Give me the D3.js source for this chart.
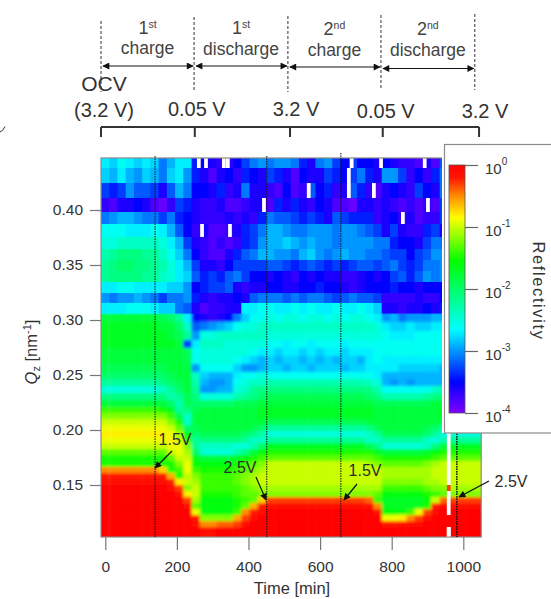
<!DOCTYPE html>
<html>
<head>
<meta charset="utf-8">
<script src="https://cdn.jsdelivr.net/npm/d3@7"></script>
<style>
body { margin: 0; background: #fff; }
text { font-family: "Liberation Sans", Arial, sans-serif; }
</style>
</head>
<body>
<div id="chart"></div>
<script>
// bin edges of the map
var timeEdges = [-12, 11, 34, 57, 80, 103, 126, 149, 172, 195, 218, 241, 264, 288, 311, 334, 357, 380, 403, 426, 449, 472, 495, 518, 541, 564, 587, 611, 634, 657, 680, 703, 726, 749, 772, 795, 818, 841, 864, 887, 910, 934, 957, 980, 1003, 1026, 1050];
var qEdges = [.4473, .4382, .4245, .4109, .3982, .3873, .3755, .3645, .3545, .3445, .3345, .3245, .3155, .3064, .2982, .29, .2818, .2745, .2673, .26, .2527, .2464, .24, .2336, .2273, .2209, .2155, .21, .2045, .1991, .1936, .1882, .1827, .1773, .1718, .1664, .1609, .1555, .15, .1445, .1391, .1336, .1282, .1227, .1173, .1118, .1027];

// -10*log10(reflectivity), one row per Q bin from the top, one value per time bin
var logR = [
[27,28,26,27,28,27,28,31,29,27,27,34,35,36,37,37,35,33,31,30,31,30,30,31,34,36,31,30,33,35,33,35,35,36,35,36,37,37,38,36,38,32,30,30,30,30],
[28,29,27,29,30,28,29,31,28,27,30,34,36,38,36,35,37,34,35,36,33,34,36,38,35,36,36,33,34,35,33,31,34,36,30,30,33,37,35,37,34,31,30,30,30,30],
[33,34,33,30,32,32,33,36,32,29,31,35,35,36,34,37,36,31,36,36,37,38,35,38,37,32,35,34,37,36,32,34,37,38,36,35,36,37,33,35,36,31,30,30,30,30],
[37,38,36,36,35,36,38,39,37,33,34,36,37,37,36,38,38,37,36,36,38,34,36,34,36,37,35,36,38,38,39,36,36,37,36,37,38,37,38,37,38,33,30,30,30,30],
[31,30,29,29,30,31,31,33,31,34,35,36,37,37,37,36,37,36,37,34,31,32,32,33,34,33,34,36,32,33,34,34,34,37,36,35,37,36,38,37,37,33,30,30,30,30],
[26,26,26,27,27,27,26,27,29,32,35,37,36,38,38,37,36,34,33,31,29,29,30,31,31,30,30,30,31,30,30,31,32,33,36,33,36,37,37,34,33,36,30,30,30,30],
[25,25,24,24,24,24,24,25,27,29,33,36,37,38,37,38,37,34,33,30,29,29,28,29,30,29,30,30,31,30,30,30,30,31,31,34,35,35,36,33,31,31,30,30,30,30],
[23,22,21,21,21,22,22,24,26,28,31,35,37,38,38,36,34,32,31,29,29,30,30,31,29,28,30,31,30,29,30,30,31,31,32,33,33,35,33,32,30,30,30,30,30,30],
[22,21,20,20,21,21,22,23,25,27,29,33,36,36,37,35,33,33,33,33,32,32,33,34,33,32,33,34,33,34,33,32,32,33,32,31,33,34,33,31,31,30,30,30,30,30],
[22,21,21,21,21,22,22,24,25,27,28,32,34,33,34,32,31,33,35,35,36,35,36,37,35,36,35,36,36,37,37,36,35,36,35,33,32,34,32,30,31,30,30,30,30,30],
[27,27,26,26,27,27,27,27,28,28,30,35,34,33,33,32,36,37,36,36,35,35,36,36,35,35,34,35,35,36,37,36,35,35,35,34,35,35,36,35,35,35,30,30,30,30],
[30,31,30,30,29,30,31,33,31,31,30,34,36,37,36,36,35,36,32,31,31,31,32,31,32,31,31,32,33,32,31,32,32,33,37,37,37,37,36,37,37,35,30,30,30,30],
[27,27,27,26,26,26,27,28,28,31,32,36,38,37,37,36,36,27,27,26,26,27,27,26,27,26,27,27,26,27,27,26,27,28,36,36,37,36,36,35,36,34,30,30,30,30],
[18,18,18,18,18,18,18,19,20,22,27,35,36,37,36,35,31,28,26,26,25,26,25,25,26,25,25,26,25,26,25,25,26,27,30,29,31,30,30,30,29,29,29,29,29,29],
[17,17,17,17,17,17,17,18,18,20,24,32,31,30,29,28,26,25,25,24,24,24,24,24,24,24,24,24,24,24,24,24,24,25,27,28,28,27,28,28,27,27,27,27,27,27],
[17,17,17,17,17,17,17,17,18,19,22,30,25,25,24,24,24,24,24,24,25,25,25,25,25,25,25,25,25,25,25,25,25,25,26,27,27,27,26,26,26,26,26,26,26,26],
[17,17,17,17,17,17,17,17,17,18,33,27,24,24,24,25,25,25,25,25,26,26,27,26,26,27,26,26,26,27,26,26,26,26,26,26,26,26,26,26,26,26,26,26,26,26],
[18,18,18,18,18,18,18,18,18,18,19,26,25,25,25,25,25,25,26,27,27,28,27,27,28,27,28,27,27,28,27,27,27,26,26,26,26,26,26,26,26,26,27,27,27,27],
[18,18,18,18,18,18,18,18,18,18,19,26,25,25,25,25,26,27,28,29,28,29,28,28,29,28,29,28,29,28,28,29,27,26,27,27,27,27,27,27,27,27,27,27,27,27],
[19,19,19,19,19,19,19,19,18,18,18,30,26,26,26,26,28,30,30,29,28,28,29,28,28,29,28,28,28,29,28,28,27,27,27,27,28,28,28,28,28,29,29,29,29,29],
[20,20,20,20,20,20,20,20,19,18,18,24,28,29,29,29,27,26,26,25,26,26,26,26,26,26,26,26,26,26,26,26,26,27,29,29,29,29,29,29,29,29,29,29,29,29],
[22,22,22,22,22,22,22,21,20,19,18,23,29,30,30,29,26,25,24,24,23,23,23,23,23,23,23,23,23,23,23,23,24,25,29,30,29,30,29,29,29,29,29,29,29,29],
[25,25,25,25,25,25,25,24,22,20,18,22,30,30,29,29,25,24,22,21,21,21,21,21,21,21,21,21,21,21,21,21,21,23,26,26,26,26,26,26,24,23,23,23,23,23],
[21,21,21,21,21,21,21,21,23,22,19,21,25,25,25,25,23,22,21,20,19,19,19,19,19,19,19,19,19,19,19,19,20,21,23,23,23,23,23,22,21,20,19,19,19,19],
[18,18,18,18,18,18,18,18,20,23,19,20,20,20,20,20,19,19,19,18,18,18,18,18,18,18,18,18,18,18,18,18,18,19,19,19,19,19,19,19,18,18,18,18,18,18],
[14,14,14,14,14,14,14,15,17,22,21,19,18,18,18,18,18,18,18,17,17,17,17,17,17,17,17,17,17,17,17,17,17,18,18,18,18,18,18,18,18,17,17,17,17,17],
[12,12,12,12,12,12,12,12,14,19,24,18,18,18,18,18,18,18,18,17,17,17,17,17,17,17,17,17,17,17,17,17,17,18,18,18,18,18,18,18,18,17,17,17,17,17],
[10,10,10,10,10,10,10,10,12,15,24,18,18,18,18,18,18,18,18,18,19,19,19,19,19,19,19,19,19,19,19,19,18,18,18,18,18,18,18,18,18,19,19,19,19,19],
[9,9,9,9,9,9,9,9,10,13,20,19,18,18,18,18,18,18,19,20,22,22,22,22,22,22,22,22,22,22,22,22,21,19,18,18,18,18,18,19,20,22,22,22,22,22],
[8,8,8,8,8,8,8,8,9,11,17,20,19,19,19,19,19,20,21,23,25,25,25,25,25,25,25,25,25,25,25,25,24,22,19,19,19,19,19,20,22,25,25,25,25,25],
[9,9,9,9,9,9,9,9,8,10,14,22,21,21,21,21,21,22,24,24,22,22,22,22,22,22,22,22,22,22,22,22,24,24,22,22,22,22,22,24,25,23,22,22,22,22],
[10,10,10,10,10,10,10,10,9,9,12,22,24,24,24,24,25,25,23,20,17,17,17,17,17,17,17,17,17,17,17,17,19,21,25,25,25,25,25,24,21,18,17,17,17,17],
[13,13,13,13,13,13,13,13,10,9,11,20,25,25,25,25,23,21,18,16,15,15,15,15,15,15,15,15,15,15,15,15,15,17,18,18,18,18,18,17,16,15,15,15,15,15],
[15,15,15,15,15,15,15,15,13,10,10,17,18,18,18,18,17,16,15,14,13,13,13,13,13,13,13,13,13,13,13,13,13,14,15,15,15,15,15,15,14,13,13,13,13,13],
[15,15,15,15,15,15,15,15,15,12,9,16,16,16,16,16,15,14,13,12,10,10,10,10,10,10,10,10,10,10,10,10,11,12,13,13,13,13,13,12,11,10,10,10,10,10],
[5,5,5,5,5,5,5,7,15,14,9,14,15,15,15,15,14,13,12,11,10,10,10,10,10,10,10,10,10,10,10,10,10,10,11,11,11,11,11,11,10,10,10,10,10,10],
[2,2,2,2,2,2,2,2,6,15,10,12,14,14,14,14,13,12,11,10,10,10,10,10,10,10,10,10,10,10,10,10,10,10,11,11,11,11,11,11,10,10,10,10,10,10],
[1,1,1,1,1,1,1,1,2,8,10,11,14,14,14,14,13,12,11,10,10,10,10,10,10,10,10,10,10,10,10,10,10,10,12,12,12,12,12,11,11,10,10,10,10,10],
[0,0,0,0,0,0,0,0,1,3,12,10,14,14,14,14,14,13,12,11,11,11,11,11,11,11,11,11,11,11,11,11,11,11,14,14,14,14,14,13,12,12,11,11,11,11],
[0,0,0,0,0,0,0,0,0,1,8,10,15,15,15,15,14,13,13,12,12,12,12,12,12,12,12,12,12,12,12,12,12,13,16,16,16,16,16,15,14,13,12,12,12,12],
[0,0,0,0,0,0,0,0,0,0,3,11,16,16,16,16,15,14,13,7,3,3,3,3,3,3,3,3,3,3,3,3,4,14,17,17,17,17,17,16,10,4,3,3,3,3],
[0,0,0,0,0,0,0,0,0,0,1,13,16,16,16,16,15,13,6,2,1,1,1,1,1,1,1,1,1,1,1,1,1,5,17,17,17,17,17,15,2,1,1,1,1,1],
[0,0,0,0,0,0,0,0,0,0,0,9,16,16,16,16,14,5,2,1,0,0,0,0,0,0,0,0,0,0,0,0,0,1,16,16,16,14,9,3,1,0,0,0,0,0],
[0,0,0,0,0,0,0,0,0,0,0,2,12,12,12,12,6,3,1,0,0,0,0,0,0,0,0,0,0,0,0,0,0,0,9,9,8,5,3,1,0,0,0,0,0,0],
[0,0,0,0,0,0,0,0,0,0,0,1,5,5,4,4,3,1,0,0,0,0,0,0,0,0,0,0,0,0,0,0,0,0,2,2,1,1,1,0,0,0,0,0,0,0],
[0,0,0,0,0,0,0,0,0,0,0,0,1,1,0,0,0,0,0,0,0,0,0,0,0,0,0,0,0,0,0,0,0,0,0,0,0,0,0,0,0,0,0,0,0,0]
];
var noisyRows = 13; // rows above this stay blocky, the intense part below is smooth

// missing scans: white cells, start time of the scan and Q bin
var gapTimes = [256, 276, 326, 337, 683, 765, 887, 438, 265, 343, 675, 675, 563, 745, 896, 826, 954, 954, 954, 954, 954, 954, 954, 954, 954, 954, 954, 954, 954, 954, 954];
var gapRows = [0, 0, 0, 0, 0, 0, 0, 3, 5, 5, 1, 2, 2, 2, 3, 4, 29, 30, 31, 32, 33, 34, 35, 36, 37, 39, 40, 41, 42, 45, 45];
var gapWidth = 10.5;
var spikeTime = 954, spikeRow = 38, spikeValue = 3;

var xTicks = [0, 200, 400, 600, 800, 1000];
var yTicks = [0.15, 0.20, 0.25, 0.30, 0.35, 0.40];
var colorLevels = [0, 2, 5, 8.5, 15.5, 26.5, 35, 40];
var colorValues = ["#ff0000", "#ff1400", "#ff8c00", "#ffff00", "#00ff00", "#00ffff", "#0000ff", "#8000ff"];
var barExponents = [0, -1, -2, -3, -4];

// voltage line markers and cycle boundaries (minutes)
var markerTimes = [139, 451, 658, 982];
var cycleTimes = [-12, 248, 510, 770, 1032];
var bracketTimes = [-12, 250, 516, 775, 1044];
var cycleNames = [["1", "st", "charge"], ["1", "st", "discharge"], ["2", "nd", "charge"], ["2", "nd", "discharge"]];
var voltageNames = ["(3.2 V)", "0.05 V", "3.2 V", "0.05 V", "3.2 V"];
var voltageYs = [117, 116, 116, 118, 118];

var width = 551, height = 599;
var svg = d3.select("#chart").append("svg").attr("width", width).attr("height", height).style("display", "block");

var x = d3.scaleLinear().domain([0, 1000]).range([105.3, 463.3]);
var y = d3.scaleLinear().domain([0.15, 0.40]).range([485, 210]);
var color = d3.scaleLinear().domain(colorLevels).range(colorValues).clamp(true);

var plotLeft = x(-12), plotRight = x(1050), plotTop = y(0.4473), plotBottom = y(0.1027);

var defs = svg.append("defs");
function blur(id, amount) {
	defs.append("filter").attr("id", id).attr("x", "-3%").attr("y", "-3%").attr("width", "106%").attr("height", "106%")
		.append("feGaussianBlur").attr("stdDeviation", amount);
}
blur("soft", 0.6);
blur("softer", 1.5);
defs.append("clipPath").attr("id", "plotClip").append("rect")
	.attr("x", plotLeft).attr("y", plotTop).attr("width", plotRight - plotLeft).attr("height", plotBottom - plotTop);
var arrowDefs = defs.append("marker").attr("id", "head").attr("viewBox", "0 0 10 10").attr("refX", 9).attr("refY", 5)
	.attr("markerWidth", 8).attr("markerHeight", 7).attr("markerUnits", "userSpaceOnUse").attr("orient", "auto-start-reverse");
arrowDefs.append("path").attr("d", "M0,0L10,5L0,10Z").attr("fill", "#111");

// heat map: whole map smooth first, noisy top rows sharper on top of it
var plot = svg.append("g").attr("clip-path", "url(#plotClip)");
var smooth = plot.append("g").attr("filter", "url(#softer)");
var map = plot.append("g").attr("filter", "url(#soft)");
var overhang = 8; // so the blur does not fade at the frame

function drawRow(group, row, r) {
	group.selectAll(".r" + r).data(row).enter().append("rect")
		.attr("x", function (d, c) { return x(timeEdges[c]) - (c == 0 ? overhang : 0); })
		.attr("y", y(qEdges[r]) - (r == 0 ? overhang : 0))
		.attr("width", function (d, c) { return x(timeEdges[c + 1]) - x(timeEdges[c]) + (c == 0 || c == row.length - 1 ? overhang : 0.5); })
		.attr("height", y(qEdges[r + 1]) - y(qEdges[r]) + (r == 0 || r == logR.length - 1 ? overhang : 0.5))
		.attr("fill", function (d) { return color(d); });
}
logR.forEach(function (row, r) {
	drawRow(smooth, row, r);
	if (r < noisyRows) drawRow(map, row, r);
});

map.selectAll(".gap").data(gapTimes).enter().append("rect")
	.attr("x", function (d) { return x(d); })
	.attr("y", function (d, i) { return y(qEdges[gapRows[i]]); })
	.attr("width", x(gapWidth) - x(0))
	.attr("height", function (d, i) { return y(qEdges[gapRows[i] + 1]) - y(qEdges[gapRows[i]]) + (gapRows[i] == logR.length - 1 ? overhang : 0); })
	.attr("fill", "#fff");
map.append("rect")
	.attr("x", x(spikeTime)).attr("y", y(qEdges[spikeRow]))
	.attr("width", x(gapWidth) - x(0))
	.attr("height", y(qEdges[spikeRow + 1]) - y(qEdges[spikeRow]))
	.attr("fill", color(spikeValue));

// frame
svg.append("rect").attr("x", plotLeft).attr("y", plotTop).attr("width", plotRight - plotLeft).attr("height", plotBottom - plotTop)
	.attr("fill", "none").attr("stroke", "#8a8a8a").attr("stroke-width", 1.2);

// axes
var xAxis = svg.append("g").attr("transform", "translate(0," + plotBottom + ")")
	.call(d3.axisBottom(x).tickValues(xTicks).tickFormat(d3.format("d")).tickSize(13).tickPadding(11));
var yAxis = svg.append("g").attr("transform", "translate(" + plotLeft + ",0)")
	.call(d3.axisLeft(y).tickValues(yTicks).tickFormat(d3.format(".2f")).tickSize(11).tickPadding(7));
[xAxis, yAxis].forEach(function (a) {
	a.select(".domain").remove();
	a.selectAll("line").attr("stroke", "#777").attr("stroke-width", 1.2);
	a.selectAll("text").attr("fill", "#333").style("font-size", "15.5px").style("font-family", '"Liberation Sans", Arial, sans-serif');
});

svg.append("text").attr("x", 292).attr("y", 594).attr("text-anchor", "middle").attr("fill", "#333").style("font-size", "16.5px").text("Time [min]");

var qLabel = svg.append("text").attr("transform", "translate(37,352) rotate(-90)").attr("text-anchor", "middle").attr("fill", "#333").style("font-size", "16.5px");
qLabel.append("tspan").style("font-style", "italic").text("Q");
qLabel.append("tspan").attr("dy", 3).style("font-size", "11px").text("z");
qLabel.append("tspan").attr("dy", -3).text(" [nm");
qLabel.append("tspan").attr("dy", -6).style("font-size", "11px").text("-1");
qLabel.append("tspan").attr("dy", 6).text("]");

// voltage markers
var markers = svg.append("g");
markers.selectAll("line").data(markerTimes).enter().append("line")
	.attr("x1", function (d) { return x(d); }).attr("x2", function (d) { return x(d); })
	.attr("y1", function (d, i) { return i == 2 ? 153 : 156; }).attr("y2", plotBottom)
	.attr("stroke", "#111").attr("stroke-width", 1).attr("stroke-dasharray", "1.5,1");

// legend box with the colour bar
svg.append("rect").attr("x", 442).attr("y", plotTop - 1).attr("width", 3).attr("height", 433 - plotTop + 1).attr("fill", "#fff");
svg.append("rect").attr("x", 444.5).attr("y", 144.5).attr("width", 120).attr("height", 288.5)
	.attr("fill", "#fff").attr("stroke", "#8a8a8a").attr("stroke-width", 1.2);

var barScale = d3.scaleLinear().domain([0, -4]).range([165, 413]);
var gradient = defs.append("linearGradient").attr("id", "bar").attr("x1", 0).attr("x2", 0).attr("y1", 0).attr("y2", 1);
gradient.selectAll("stop").data(colorLevels).enter().append("stop")
	.attr("offset", function (d) { return d / 40; })
	.attr("stop-color", function (d, i) { return colorValues[i]; });
svg.append("rect").attr("x", 449).attr("y", barScale(0)).attr("width", 16).attr("height", barScale(-4) - barScale(0))
	.attr("fill", "url(#bar)").attr("stroke", "#555").attr("stroke-width", 0.8);

var barAxis = svg.append("g").attr("transform", "translate(465,0)")
	.call(d3.axisRight(barScale).tickValues(barExponents).tickFormat("").tickSize(13));
barAxis.select(".domain").remove();
barAxis.selectAll("line").attr("stroke", "#666").attr("stroke-width", 1.2);
barAxis.selectAll(".tick").append("text").each(function (d) {
	var t = d3.select(this).attr("x", 20).attr("y", 0).attr("dy", "0.55em").attr("fill", "#333").attr("text-anchor", "start")
		.style("font-size", "15px").style("font-family", '"Liberation Sans", Arial, sans-serif');
	t.append("tspan").text("10");
	t.append("tspan").attr("dy", -9).style("font-size", "10px").text(d);
});
markers.append("line").attr("x1", x(982)).attr("x2", x(982)).attr("y1", 156).attr("y2", plotBottom)
	.attr("stroke", "#111").attr("stroke-width", 1).attr("stroke-dasharray", "1.5,1");

svg.append("text").attr("transform", "translate(533,291) rotate(90)").attr("text-anchor", "middle").attr("fill", "#333")
	.style("font-size", "16.5px").style("letter-spacing", "1.6px").text("Reflectivity");

// labels on the map
var callouts = [
	{ text: "1.5V", tx: 175, ty: 445, x1: 172, y1: 451, x2: 155, y2: 468 },
	{ text: "2.5V", tx: 240, ty: 473, x1: 256, y1: 477, x2: 266, y2: 500 },
	{ text: "1.5V", tx: 365, ty: 476, x1: 357, y1: 484, x2: 344, y2: 500 },
	{ text: "2.5V", tx: 511, ty: 487, x1: 489, y1: 481, x2: 459, y2: 497 }
];
svg.selectAll(".callout").data(callouts).enter().append("text").attr("class", "callout")
	.attr("x", function (d) { return d.tx; }).attr("y", function (d) { return d.ty; })
	.attr("text-anchor", "middle").attr("fill", "#2c2c2c").style("font-size", "16px")
	.text(function (d) { return d.text; });
svg.selectAll(".calloutLine").data(callouts).enter().append("line").attr("class", "calloutLine")
	.attr("x1", function (d) { return d.x1; }).attr("y1", function (d) { return d.y1; })
	.attr("x2", function (d) { return d.x2; }).attr("y2", function (d) { return d.y2; })
	.attr("stroke", "#111").attr("stroke-width", 1.2).attr("marker-end", "url(#head)");

// cycle header above the map
var header = svg.append("g");
var arrowYs = [66, 66, 67, 68.5];
var dashTops = [21, 17, 16, 15, 14];
var dashBottoms = [92, 92, 92, 90, 90];
header.selectAll(".cycle").data(cycleTimes).enter().append("line").attr("class", "cycle")
	.attr("x1", function (d) { return x(d); }).attr("x2", function (d) { return x(d); })
	.attr("y1", function (d, i) { return dashTops[i]; }).attr("y2", function (d, i) { return dashBottoms[i]; })
	.attr("stroke", "#555").attr("stroke-width", 1.2).attr("stroke-dasharray", "3,2");

cycleNames.forEach(function (c, i) {
	var left = x(cycleTimes[i]), right = x(cycleTimes[i + 1]), mid = (left + right) / 2;
	header.append("line").attr("x1", left + 2).attr("x2", right - 1).attr("y1", arrowYs[i]).attr("y2", arrowYs[i])
		.attr("stroke", "#111").attr("stroke-width", 1.2)
		.attr("marker-start", "url(#head)").attr("marker-end", "url(#head)");
	var top = header.append("text").attr("x", mid).attr("y", 34 + (i > 1 ? 1 : 0)).attr("text-anchor", "middle").attr("fill", "#444").style("font-size", "18px");
	top.append("tspan").text(c[0]);
	top.append("tspan").attr("dy", -6).style("font-size", "10.5px").text(c[1]);
	header.append("text").attr("x", mid).attr("y", 54 + (i > 1 ? 2 : 0) + (i == 1 ? 1 : 0)).attr("text-anchor", "middle").attr("fill", "#444")
		.style("font-size", "17.5px").text(c[2]);
});

header.append("text").attr("x", 104).attr("y", 91).attr("text-anchor", "middle").attr("fill", "#333").style("font-size", "21px").text("OCV");
header.selectAll(".volt").data(voltageNames).enter().append("text").attr("class", "volt")
	.attr("x", function (d, i) { return i == 0 ? 104 : x(bracketTimes[i]) + (i == 1 ? 2 : i == 2 ? 6 : i == 3 ? 3 : 6); })
	.attr("y", function (d, i) { return voltageYs[i]; })
	.attr("text-anchor", "middle").attr("fill", "#333").style("font-size", "20px")
	.text(function (d) { return d; });

// bracket
header.append("path")
	.attr("d", "M" + bracketTimes.map(function (d) { return x(d) + ",137L" + x(d) + ",127"; }).join("M") + "M" + x(bracketTimes[0]) + ",127L" + x(bracketTimes[4]) + ",127")
	.attr("fill", "none").attr("stroke", "#333").attr("stroke-width", 2);

// small stray tick at the left edge of the scan
svg.append("path").attr("d", "M0,132L2.5,130.5L5,126.5").attr("fill", "none").attr("stroke", "#333").attr("stroke-width", 1);
</script>
</body>
</html>
